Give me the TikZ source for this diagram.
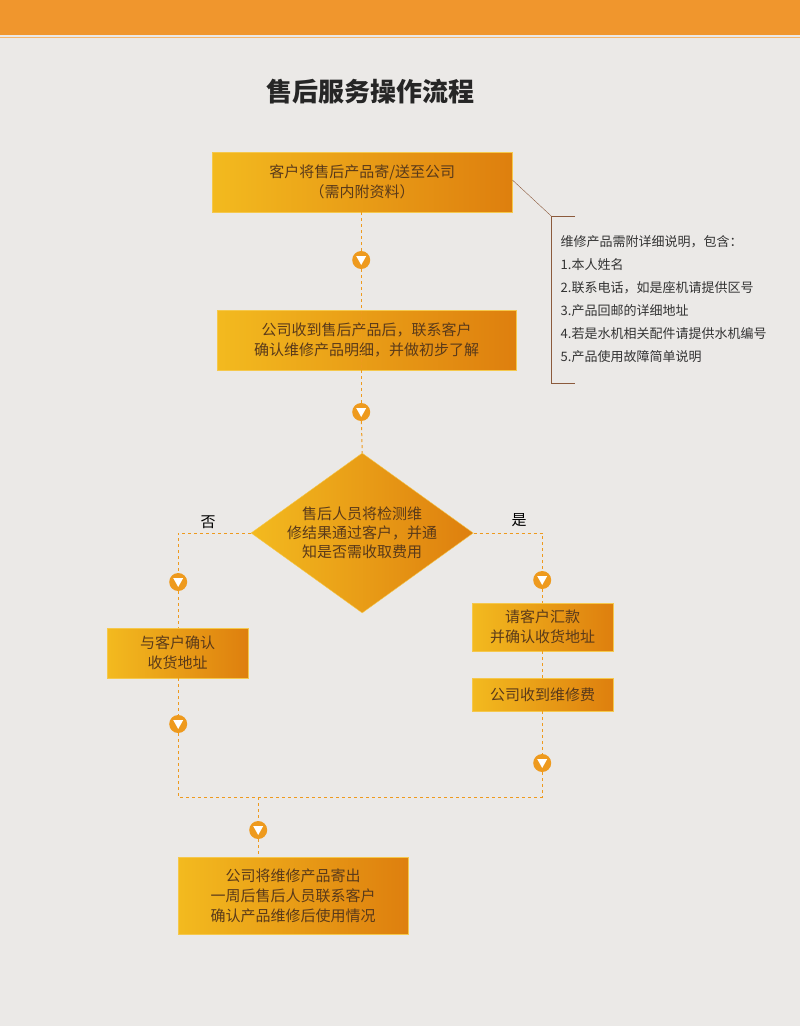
\documentclass[tikz,border=0pt]{standalone}
\usepackage{fontspec}
\setmainfont{Noto Sans CJK SC}
\usetikzlibrary{positioning,shapes.geometric}
\definecolor{bg}{HTML}{EBE9E7}
\definecolor{band}{HTML}{F0962D}
\definecolor{gold}{HTML}{F3BA1F}
\definecolor{deep}{HTML}{DE7F0E}
\definecolor{ink}{HTML}{5A3A1A}
\definecolor{note}{HTML}{8B5A3C}
\definecolor{dot}{HTML}{EE9A1E}
\tikzset{
  stepbox/.style={draw=gold!80!white, left color=gold, right color=deep, text=ink, font=\fontsize{15}{20}\selectfont, align=center, inner sep=0pt},
  check/.style={diamond, draw=gold!80!white, left color=gold, right color=deep, text=ink, font=\fontsize{15}{19}\selectfont, align=center, inner sep=0pt, minimum width=208pt, minimum height=150pt, aspect=1.39},
  marker/.style={circle, fill=dot, minimum size=18pt, inner sep=0pt,
    path picture={\fill[white] ([xshift=-5pt,yshift=4pt]path picture bounding box.center) -- ([xshift=5pt,yshift=4pt]path picture bounding box.center) -- ([yshift=-5pt]path picture bounding box.center) -- cycle;}},
  flow/.style={dot, dashed, line width=1pt}
}
\begin{document}
\begin{tikzpicture}[x=1pt,y=-1pt]
\fill[bg] (0,0) rectangle (800,1026);
\fill[band] (0,0) rectangle (800,35);
\draw[band!70!white] (0,37) -- (800,37);

\node[font=\fontsize{26}{30}\selectfont\bfseries, text=black!85] (title) at (370,92) {售后服务操作流程};

\node[stepbox, minimum width=300pt, minimum height=60pt] (send) at (362,182) {客户将售后产品寄/送至公司\\（需内附资料）};
\node[stepbox, minimum width=299pt, minimum height=60pt] (contact) at (366.5,340) {公司收到售后产品后，联系客户\\确认维修产品明细，并做初步了解};
\node[check] (test) at (362,533) {售后人员将检测维\\修结果通过客户，并通\\知是否需收取费用};
\node[stepbox, minimum width=141pt, minimum height=50pt] (confirm) at (177.5,653) {与客户确认\\收货地址};
\node[stepbox, minimum width=141pt, minimum height=48pt] (pay) at (542.5,627) {请客户汇款\\并确认收货地址};
\node[stepbox, minimum width=141pt, minimum height=33pt] (fee) at (542.5,694.5) {公司收到维修费};
\node[stepbox, minimum width=230pt, minimum height=77pt] (ship) at (293,895.5) {公司将维修产品寄出\\一周后售后人员联系客户\\确认产品维修后使用情况};

\node[font=\fontsize{15}{18}\selectfont] (no) at (208,522) {否};
\node[font=\fontsize{15}{18}\selectfont] (yes) at (519,520) {是};

\node[marker] (m1) at (361,260) {};
\node[marker] (m2) at (361,412) {};
\node[marker] (m3) at (178,582) {};
\node[marker] (m4) at (178,724) {};
\node[marker] (m5) at (542,580) {};
\node[marker] (m6) at (542,763) {};
\node[marker] (m7) at (258,830) {};
\coordinate (jl) at (178,797);
\coordinate (jr) at (542,797);
\coordinate (jm) at (258,797);

\draw[flow] (send.south -| m1) -- (m1);
\draw[flow] (m1) -- (contact.south -| m1 |- contact.north);
\draw[flow] (contact.south -| m2) -- (m2);
\draw[flow] (m2) -- (test.north);
\draw[flow] (test.west) -| (m3);
\draw[flow] (m3) -- (confirm.north -| m3);
\draw[flow] (confirm.south -| m4) -- (m4);
\draw[flow] (m4) -- (jl) -- (jr) -- (m6);
\draw[flow] (test.east) -| (m5);
\draw[flow] (m5) -- (pay.north -| m5);
\draw[flow] (pay.south -| m5) -- (fee.north -| m5);
\draw[flow] (fee.south -| m6) -- (m6);
\draw[flow] (jm) -- (m7);
\draw[flow] (m7) -- (ship.north -| m7);

% note with bracket
\node[font=\fontsize{13}{23}\selectfont, text=black!80, align=left, anchor=north west] (list) at (557,232) {维修产品需附详细说明，包含：\\1.本人姓名\\2.联系电话，如是座机请提供区号\\3.产品回邮的详细地址\\4.若是水机相关配件请提供水机编号\\5.产品使用故障简单说明};
\coordinate (bt) at (551,216);
\coordinate (bb) at (551,383);
\draw[note] (send.north east |- 0,180) -- (bt);
\draw[note] ([xshift=24pt]bt) -- (bt) -- (bb) -- ([xshift=24pt]bb);
\end{tikzpicture}
\end{document}
